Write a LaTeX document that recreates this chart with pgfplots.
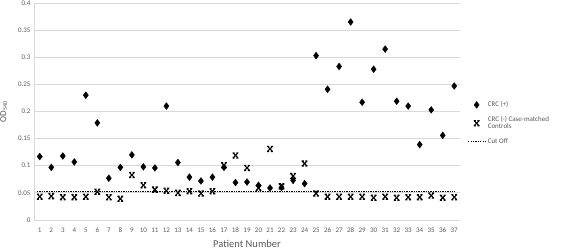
\documentclass[border=0pt]{standalone}
\usepackage{pgfplots}
\pgfplotsset{compat=1.18}
\usepackage{fontspec}
\setmainfont{Carlito}
\pgfdeclareplotmark{xstar}{%
  \pgfpathmoveto{\pgfqpoint{-\pgfplotmarksize}{-\pgfplotmarksize}}%
  \pgfpathlineto{\pgfqpoint{\pgfplotmarksize}{\pgfplotmarksize}}%
  \pgfpathmoveto{\pgfqpoint{-\pgfplotmarksize}{\pgfplotmarksize}}%
  \pgfpathlineto{\pgfqpoint{\pgfplotmarksize}{-\pgfplotmarksize}}%
  \pgfpathmoveto{\pgfqpoint{-1.1\pgfplotmarksize}{\pgfplotmarksize}}%
  \pgfpathlineto{\pgfqpoint{-0.3\pgfplotmarksize}{\pgfplotmarksize}}%
  \pgfpathmoveto{\pgfqpoint{0.3\pgfplotmarksize}{\pgfplotmarksize}}%
  \pgfpathlineto{\pgfqpoint{1.1\pgfplotmarksize}{\pgfplotmarksize}}%
  \pgfpathmoveto{\pgfqpoint{-1.1\pgfplotmarksize}{-\pgfplotmarksize}}%
  \pgfpathlineto{\pgfqpoint{-0.3\pgfplotmarksize}{-\pgfplotmarksize}}%
  \pgfpathmoveto{\pgfqpoint{0.3\pgfplotmarksize}{-\pgfplotmarksize}}%
  \pgfpathlineto{\pgfqpoint{1.1\pgfplotmarksize}{-\pgfplotmarksize}}%
  \pgfusepathqstroke}
\definecolor{gridc}{HTML}{D9D9D9}
\definecolor{tickc}{HTML}{595959}
\begin{document}
\begin{tikzpicture}
\path[use as bounding box] (0,0) rectangle (567pt,249pt);
\begin{axis}[
  at={(34pt,29pt)}, anchor=south west,
  scale only axis, width=426pt, height=217pt,
  xmin=0.5, xmax=37.5, ymin=0, ymax=0.4,
  xtick={1,...,37}, ytick={0,0.05,...,0.4},
  major tick length=0pt,
  axis x line=bottom, axis y line=left,
  axis line style={draw=gridc, line width=1pt, -},
  ymajorgrids, grid style={draw=gridc, line width=0.9pt},
  tick label style={font=\fontsize{7}{8}\selectfont, text=tickc},
  xticklabel style={yshift=-4pt},
  /pgf/number format/assume math mode=true,
  yticklabel style={/pgf/number format/fixed, /pgf/number format/precision=2},
  xlabel={Patient Number},
  xlabel style={font=\fontsize{10.5}{12}\selectfont, text=tickc, yshift=-1pt},
  ylabel={OD\textsubscript{540}},
  ylabel style={font=\fontsize{9}{10}\selectfont, text=tickc, yshift=4pt},
  legend style={at={(1.01,0.565)}, anchor=north west, draw=none, fill=none,
    font=\fontsize{7}{7.5}\selectfont, text=tickc, row sep=4pt,
    cells={anchor=west, align=left}},
  clip=false,
]
\addplot[only marks, mark=diamond*, mark size=3.4pt, black] coordinates {
(1,0.117) (2,0.097) (3,0.118) (4,0.107) (5,0.230) (6,0.179) (7,0.077)
(8,0.097) (9,0.120) (10,0.098) (11,0.096) (12,0.210) (13,0.106) (14,0.079)
(15,0.072) (16,0.079) (17,0.097) (18,0.069) (19,0.070) (20,0.064) (21,0.059)
(22,0.060) (23,0.073) (24,0.067) (25,0.303) (26,0.241) (27,0.283) (28,0.365)
(29,0.217) (30,0.278) (31,0.315) (32,0.219) (33,0.210) (34,0.139) (35,0.203)
(36,0.156) (37,0.247)};
\addlegendentry{CRC (+)\rule[-24pt]{0pt}{0pt}}
\addplot[only marks, mark=xstar, mark size=2.6pt, black, line width=1.1pt] coordinates {
(1,0.043) (2,0.044) (3,0.042) (4,0.042) (5,0.043) (6,0.052) (7,0.042)
(8,0.039) (9,0.083) (10,0.064) (11,0.056) (12,0.054) (13,0.050) (14,0.053)
(15,0.049) (16,0.053) (17,0.101) (18,0.119) (19,0.096) (20,0.059) (21,0.131)
(22,0.062) (23,0.081) (24,0.104) (25,0.049) (26,0.043) (27,0.043) (28,0.043)
(29,0.043) (30,0.041) (31,0.043) (32,0.041) (33,0.042) (34,0.042) (35,0.045)
(36,0.041) (37,0.042)};
\addlegendentry{CRC (-) Case-matched\\Controls}
\addplot[black, line width=1.3pt, dash pattern=on 1.3pt off 1.1pt] coordinates {(0.75,0.052) (37.1,0.052)};
\addlegendentry{Cut Off}
\end{axis}
\end{tikzpicture}
\end{document}
